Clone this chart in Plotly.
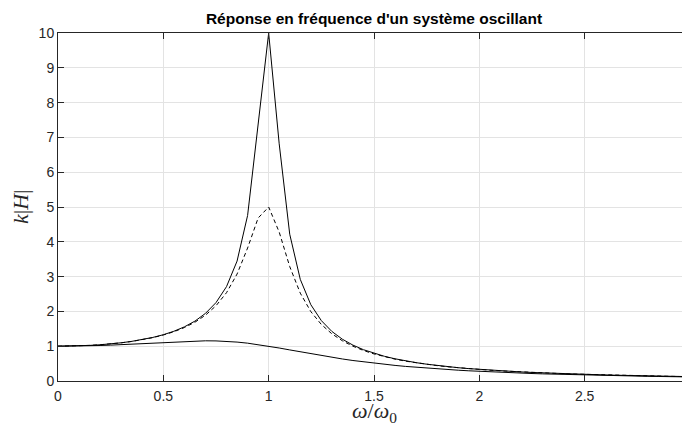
"""Réponse en fréquence d'un système oscillant (k|H| vs ω/ω0)."""

import plotly.graph_objects as go

# reduced pulsation omega / omega_0
w_ratio = [
    0.00, 0.05, 0.10, 0.15, 0.20, 0.25, 0.30, 0.35, 0.40, 0.45,
    0.50, 0.55, 0.60, 0.65, 0.70, 0.75, 0.80, 0.85, 0.90, 0.95,
    1.00, 1.05, 1.10, 1.15, 1.20, 1.25, 1.30, 1.35, 1.40, 1.45,
    1.50, 1.55, 1.60, 1.65, 1.70, 1.75, 1.80, 1.85, 1.90, 1.95,
    2.00, 2.05, 2.10, 2.15, 2.20, 2.25, 2.30, 2.35, 2.40, 2.45,
    2.50, 2.55, 2.60, 2.65, 2.70, 2.75, 2.80, 2.85, 2.90, 2.95,
    3.00,
]

# k|H| for the sharp resonance (peak 10)
gain_q10 = [
    1.000, 1.003, 1.010, 1.023, 1.041, 1.066, 1.098, 1.139, 1.189, 1.252,
    1.330, 1.429, 1.556, 1.721, 1.943, 2.253, 2.712, 3.446, 4.757, 7.346,
    10.000, 6.815, 4.218, 2.921, 2.193, 1.735, 1.424, 1.200, 1.031, 0.899,
    0.794, 0.709, 0.638, 0.578, 0.527, 0.483, 0.445, 0.412, 0.382, 0.356,
    0.333, 0.312, 0.293, 0.276, 0.260, 0.246, 0.233, 0.221, 0.210, 0.200,
    0.190, 0.182, 0.173, 0.166, 0.159, 0.152, 0.146, 0.140, 0.135, 0.130,
    0.125,
]

# k|H| for the medium resonance (peak 5, dashed)
gain_q5 = [
    1.000, 1.003, 1.010, 1.023, 1.041, 1.065, 1.097, 1.136, 1.185, 1.246,
    1.322, 1.416, 1.536, 1.689, 1.891, 2.162, 2.538, 3.073, 3.821, 4.683,
    5.000, 4.279, 3.288, 2.525, 1.995, 1.625, 1.356, 1.155, 1.000, 0.877,
    0.778, 0.696, 0.628, 0.570, 0.521, 0.478, 0.441, 0.408, 0.379, 0.353,
    0.330, 0.310, 0.291, 0.274, 0.259, 0.245, 0.232, 0.220, 0.209, 0.199,
    0.190, 0.181, 0.173, 0.165, 0.158, 0.152, 0.146, 0.140, 0.135, 0.129,
    0.125,
]

# k|H| for the damped system (max ~1.15 near 0.7)
gain_q1 = [
    1.000, 1.001, 1.005, 1.011, 1.020, 1.031, 1.044, 1.059, 1.075, 1.092,
    1.109, 1.126, 1.140, 1.150, 1.155, 1.152, 1.140, 1.118, 1.087, 1.047,
    1.000, 0.948, 0.893, 0.837, 0.782, 0.730, 0.680, 0.633, 0.589, 0.549,
    0.512, 0.478, 0.448, 0.419, 0.393, 0.370, 0.348, 0.328, 0.310, 0.293,
    0.277, 0.263, 0.250, 0.237, 0.226, 0.215, 0.205, 0.196, 0.188, 0.180,
    0.172, 0.165, 0.158, 0.152, 0.146, 0.141, 0.135, 0.130, 0.126, 0.121,
    0.117,
]

x_ticks = [0, 0.5, 1, 1.5, 2, 2.5, 3]
x_tick_text = ["0", "0.5", "1", "1.5", "2", "2.5", "3"]
y_ticks = list(range(0, 11))

AXIS_COLOR = "#262626"
GRID_COLOR = "#e3e3e3"
SANS = "Liberation Sans, Arial, sans-serif"
SERIF = "Liberation Serif, Times New Roman, serif"

# the page body adds an 8px offset, so the figure is 8px smaller than the window
FIG_W, FIG_H = 682, 421
MARGIN = {"l": 50, "r": 0, "t": 25, "b": 48}
PLOT_H = FIG_H - MARGIN["t"] - MARGIN["b"]

fig = go.Figure()
for gain, dash in [(gain_q10, "solid"), (gain_q5, "4px,3px"), (gain_q1, "solid")]:
    fig.add_trace(
        go.Scatter(
            x=w_ratio,
            y=gain,
            mode="lines",
            line={"color": "black", "width": 1, "dash": dash},
            showlegend=False,
        )
    )

axis_common = dict(
    automargin=False,
    showline=True,
    linecolor=AXIS_COLOR,
    linewidth=1,
    mirror="ticks",
    ticks="inside",
    ticklen=6,
    tickwidth=1,
    tickcolor=AXIS_COLOR,
    showgrid=True,
    gridcolor=GRID_COLOR,
    gridwidth=1,
    zeroline=False,
    ticklabeloverflow="allow",
    tickfont={"family": SANS, "size": 14, "color": AXIS_COLOR},
)

fig.update_xaxes(
    range=[0, 3], tickvals=x_ticks, ticktext=x_tick_text, ticklabelstandoff=2, **axis_common
)
fig.update_yaxes(range=[0, 10], tickvals=y_ticks, **axis_common)

# axis titles placed as annotations (mathematical italics)
fig.add_annotation(
    text="<i>ω</i>/<i>ω</i><sub>0</sub>",
    xref="paper", yref="paper", x=0.5, y=-31 / PLOT_H,
    showarrow=False,
    xanchor="center", yanchor="middle",
    font={"family": SERIF, "size": 22, "color": AXIS_COLOR},
)
fig.add_annotation(
    text="<i>k</i>|<i>H</i>|",
    xref="paper", yref="paper", x=0, y=0.5,
    xshift=-38,
    showarrow=False,
    textangle=-90,
    xanchor="center", yanchor="middle",
    font={"family": SERIF, "size": 22, "color": AXIS_COLOR},
)

fig.update_layout(
    width=FIG_W,
    height=FIG_H,
    margin=MARGIN,
    paper_bgcolor="white",
    plot_bgcolor="white",
    title={
        "text": "<b>Réponse en fréquence d'un système oscillant</b>",
        "xref": "paper",
        "x": 0.5,
        "xanchor": "center",
        "yref": "container",
        "y": 1 - 11 / FIG_H,
        "yanchor": "middle",
        "font": {"family": SANS, "size": 15.5, "color": "black"},
    },
)

fig.write_html("out.html")
